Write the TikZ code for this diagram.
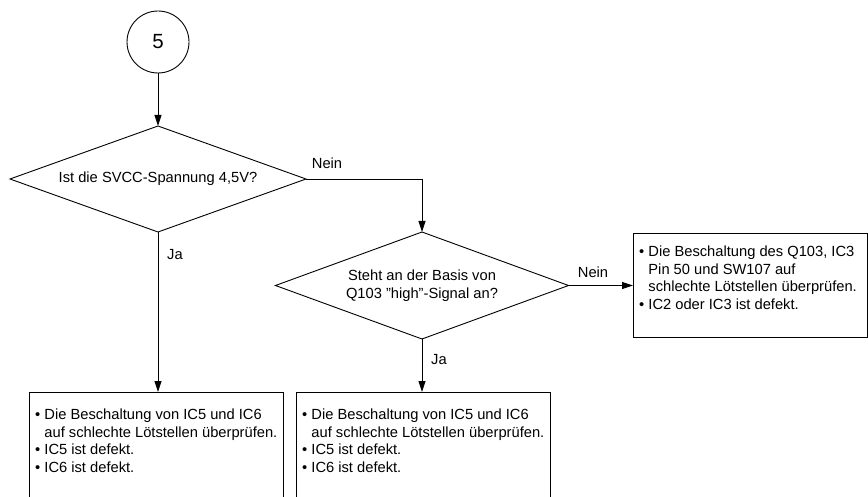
\documentclass[tikz,border=0pt]{standalone}
\usepackage{fontspec}
\setmainfont{Liberation Sans}
\usetikzlibrary{shapes.geometric,arrows.meta}
\begin{document}
\begin{tikzpicture}[x=1pt,y=-1pt,
  every node/.style={font=\fontsize{14.7}{17.5}\selectfont},
  line/.style={line width=0.9pt,draw=black},
  arr/.style={line, -{Triangle[length=11pt,width=7pt]}},
  dia/.style={diamond, line, inner sep=0pt, outer sep=0pt, aspect=2.78, minimum width=296pt, minimum height=106pt, align=center},
  box/.style={rectangle, line, inner sep=0pt, outer sep=0pt},
  btext/.style={anchor=north west, inner sep=0pt, align=left},
  lbl/.style={inner sep=0pt}
]
\clip (0,0) rectangle (868,497);
\fill[white] (0,0) rectangle (868,497);

\node[circle, line, minimum size=62pt, inner sep=0pt, font=\fontsize{20.5}{24}\selectfont] (c) at (158,42) {5};

\node[dia] (d1) at (158,179) {Ist die SVCC-Spannung 4,5V?};
\node[dia, minimum width=293pt, minimum height=107pt] (d2) at (422,285.5) {Steht an der Basis von\\Q103 \symbol{34}high\symbol{34}-Signal an?};

\node[box, minimum width=254pt, minimum height=130pt, anchor=north] (b1) at (156,392) {};
\node[box, minimum width=254pt, minimum height=130pt, anchor=north] (b2) at (423,392) {};
\node[box, minimum width=234pt, minimum height=104pt] (b3) at (750,285) {};

\node[btext] (t1) at (35,409) {\textbullet\ Die Beschaltung von IC5 und IC6\\\phantom{\textbullet\ }auf schlechte Lötstellen überprüfen.\\\textbullet\ IC5 ist defekt.\\\textbullet\ IC6 ist defekt.};
\node[btext] (t2) at (302,409) {\textbullet\ Die Beschaltung von IC5 und IC6\\\phantom{\textbullet\ }auf schlechte Lötstellen überprüfen.\\\textbullet\ IC5 ist defekt.\\\textbullet\ IC6 ist defekt.};
\node[btext] (t3) at (639,246) {\textbullet\ Die Beschaltung des Q103, IC3\\\phantom{\textbullet\ }Pin 50 und SW107 auf\\\phantom{\textbullet\ }schlechte Lötstellen überprüfen.\\\textbullet\ IC2 oder IC3 ist defekt.};

\draw[arr] (c.south) -- (d1.north);
\draw[arr] (d1.east) -| (d2.north);
\draw[arr] (d1.south) -- (d1.south |- b1.north);
\draw[arr] (d2.east) -- (d2.east -| b3.west);
\draw[arr] (d2.south) -- (d2.south |- b2.north);

\node[lbl] (n1) at (327,163) {Nein};
\node[lbl] (j1) at (175,255) {Ja};
\node[lbl] (n2) at (593,272) {Nein};
\node[lbl] (j2) at (439,360) {Ja};
\end{tikzpicture}
\end{document}
